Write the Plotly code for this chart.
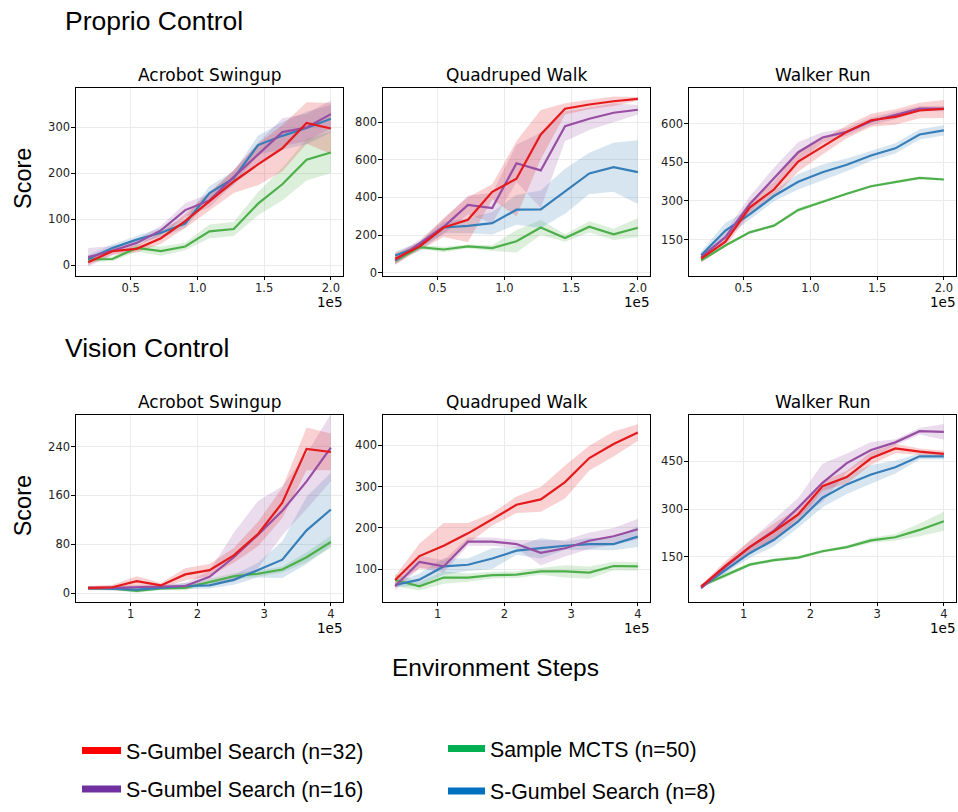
import plotly.graph_objects as go

# ---------------- data ----------------
proprio_steps = [18182, 36364, 54545, 72727, 90909, 109091, 127273, 145455, 163636, 181818, 200000]
vision_steps = [36364, 72727, 109091, 145455, 181818, 218182, 254545, 290909, 327273, 363636, 400000]

series_names = ["S-Gumbel Search (n=32)", "S-Gumbel Search (n=16)", "Sample MCTS (n=50)", "S-Gumbel Search (n=8)"]
series_keys = ["g32", "g16", "mcts", "g8"]
line_colors = {"g32": "#e41a1c", "g16": "#984ea3", "mcts": "#4daf4a", "g8": "#377eb8"}
legend_colors = {"g32": "#ff0000", "g16": "#7030a0", "mcts": "#00b050", "g8": "#0070c0"}

panel_titles = ["Acrobot Swingup", "Quadruped Walk", "Walker Run"]

# Proprio - Acrobot Swingup
pa_g32 = [7, 31, 36, 59, 96, 139, 182, 219, 254, 309, 297]
pa_g32_sd = [6, 8, 8, 12, 15, 20, 25, 45, 50, 45, 55]
pa_g16 = [18, 32, 49, 76, 120, 141, 192, 241, 289, 299, 328]
pa_g16_sd = [20, 10, 8, 10, 15, 15, 15, 25, 30, 30, 30]
pa_g8 = [14, 38, 56, 71, 91, 157, 189, 261, 281, 298, 318]
pa_g8_sd = [8, 8, 8, 10, 10, 15, 15, 20, 30, 35, 30]
pa_mcts = [13, 14, 38, 31, 41, 74, 79, 134, 176, 229, 245]
pa_mcts_sd = [5, 5, 8, 10, 8, 15, 15, 25, 35, 45, 45]

# Proprio - Quadruped Walk
pq_g32 = [74, 139, 240, 281, 430, 500, 735, 872, 895, 912, 925]
pq_g32_sd = [30, 20, 50, 120, 40, 200, 130, 30, 25, 25, 10]
pq_g16 = [65, 153, 244, 360, 344, 582, 544, 779, 819, 851, 867]
pq_g16_sd = [25, 20, 40, 50, 80, 100, 200, 80, 60, 50, 25]
pq_g8 = [91, 139, 240, 249, 263, 335, 337, 433, 528, 561, 535]
pq_g8_sd = [20, 25, 30, 40, 60, 80, 100, 120, 110, 130, 170]
pq_mcts = [61, 135, 123, 140, 130, 167, 240, 184, 244, 204, 239]
pq_mcts_sd = [15, 10, 15, 10, 15, 60, 40, 20, 30, 30, 50]

# Proprio - Walker Run
pw_g32 = [76, 142, 274, 344, 453, 510, 568, 613, 626, 651, 657]
pw_g32_sd = [15, 20, 25, 30, 40, 30, 25, 25, 30, 30, 35]
pw_g16 = [82, 159, 287, 389, 489, 546, 568, 609, 632, 658, 658]
pw_g16_sd = [10, 20, 30, 40, 40, 20, 15, 15, 15, 10, 10]
pw_g8 = [89, 185, 248, 319, 374, 411, 440, 476, 504, 558, 574]
pw_g8_sd = [15, 30, 20, 20, 30, 30, 25, 20, 20, 20, 20]
pw_mcts = [69, 127, 178, 204, 265, 297, 328, 357, 374, 389, 383]
pw_mcts_sd = [5, 5, 5, 5, 8, 5, 5, 5, 5, 5, 5]

# Vision - Acrobot Swingup
va_g32 = [9, 10, 20, 13, 31, 38, 62, 97, 148, 236, 231]
va_g32_sd = [3, 4, 8, 4, 10, 10, 12, 20, 25, 35, 30]
va_g16 = [8, 9, 11, 12, 12, 27, 59, 96, 135, 183, 238]
va_g16_sd = [3, 3, 3, 3, 5, 10, 40, 55, 40, 45, 55]
va_g8 = [9, 8, 6, 9, 12, 13, 22, 38, 55, 103, 137]
va_g8_sd = [3, 3, 3, 3, 5, 5, 8, 12, 30, 55, 60]
va_mcts = [8, 8, 4, 8, 9, 19, 28, 32, 39, 59, 84]
va_mcts_sd = [3, 3, 3, 3, 4, 5, 5, 5, 5, 8, 10]

# Vision - Quadruped Walk
vq_g32 = [74, 132, 157, 187, 221, 256, 269, 311, 369, 403, 431]
vq_g32_sd = [10, 30, 55, 25, 15, 20, 30, 40, 30, 30, 20]
vq_g16 = [59, 118, 107, 167, 167, 161, 140, 151, 169, 180, 197]
vq_g16_sd = [10, 15, 15, 10, 10, 10, 30, 20, 20, 20, 25]
vq_g8 = [62, 75, 107, 111, 126, 145, 151, 157, 161, 161, 179]
vq_g8_sd = [5, 15, 20, 15, 25, 10, 25, 10, 15, 15, 25]
vq_mcts = [74, 59, 80, 80, 86, 87, 95, 95, 92, 108, 107]
vq_mcts_sd = [15, 10, 15, 10, 8, 8, 8, 15, 15, 10, 10]

# Vision - Walker Run
vw_g32 = [57, 122, 181, 230, 284, 372, 401, 460, 491, 481, 474]
vw_g32_sd = [5, 15, 20, 25, 20, 15, 20, 20, 15, 10, 10]
vw_g16 = [52, 119, 181, 233, 305, 383, 445, 486, 510, 545, 543]
vw_g16_sd = [5, 10, 20, 35, 30, 60, 30, 25, 10, 10, 25]
vw_g8 = [55, 109, 162, 204, 262, 336, 378, 409, 432, 466, 466]
vw_g8_sd = [5, 10, 15, 20, 20, 30, 30, 30, 20, 10, 10]
vw_mcts = [59, 93, 126, 140, 148, 168, 181, 202, 212, 235, 262]
vw_mcts_sd = [5, 8, 5, 5, 5, 5, 5, 8, 10, 20, 30]

proprio_ticks = [50000, 100000, 150000, 200000]
proprio_ticktext = ["0.5", "1.0", "1.5", "2.0"]
vision_ticks = [100000, 200000, 300000, 400000]
vision_ticktext = ["1", "2", "3", "4"]

y_ticks = [
    [0, 100, 200, 300], [0, 200, 400, 600, 800], [150, 300, 450, 600],
    [0, 80, 160, 240], [100, 200, 300, 400], [150, 300, 450],
]
y_ranges = [
    [-22, 384], [-16, 981], [10, 737],
    [-13.4, 292], [22, 474], [10, 597],
]

panels = [
    {"g32": (pa_g32, pa_g32_sd), "g16": (pa_g16, pa_g16_sd), "g8": (pa_g8, pa_g8_sd), "mcts": (pa_mcts, pa_mcts_sd)},
    {"g32": (pq_g32, pq_g32_sd), "g16": (pq_g16, pq_g16_sd), "g8": (pq_g8, pq_g8_sd), "mcts": (pq_mcts, pq_mcts_sd)},
    {"g32": (pw_g32, pw_g32_sd), "g16": (pw_g16, pw_g16_sd), "g8": (pw_g8, pw_g8_sd), "mcts": (pw_mcts, pw_mcts_sd)},
    {"g32": (va_g32, va_g32_sd), "g16": (va_g16, va_g16_sd), "g8": (va_g8, va_g8_sd), "mcts": (va_mcts, va_mcts_sd)},
    {"g32": (vq_g32, vq_g32_sd), "g16": (vq_g16, vq_g16_sd), "g8": (vq_g8, vq_g8_sd), "mcts": (vq_mcts, vq_mcts_sd)},
    {"g32": (vw_g32, vw_g32_sd), "g16": (vw_g16, vw_g16_sd), "g8": (vw_g8, vw_g8_sd), "mcts": (vw_mcts, vw_mcts_sd)},
]

# ---------------- layout geometry ----------------
W, H = 958, 812
col_px = [(76, 343), (383, 650), (689, 956)]
row_px = [(89.3, 278.7), (419.3, 608.3)]


def px_x(p):
    return p / W


def px_y(p):
    return 1 - p / H


def hex_rgba(h, a):
    h = h.lstrip("#")
    return "rgba(%d,%d,%d,%.2f)" % (int(h[0:2], 16), int(h[2:4], 16), int(h[4:6], 16), a)


fig = go.Figure()
draw_order = ["mcts", "g8", "g16", "g32"]
tick_font = dict(family="DejaVu Sans", size=11.5, color="#222222")
annotations = []

for i, panel in enumerate(panels):
    r, c = divmod(i, 3)
    n = i + 1
    xa = "x" if n == 1 else "x%d" % n
    ya = "y" if n == 1 else "y%d" % n
    steps = proprio_steps if r == 0 else vision_steps
    for key in draw_order:
        m, sd = panel[key]
        up = [a + b for a, b in zip(m, sd)]
        lo = [a - b for a, b in zip(m, sd)]
        fig.add_trace(go.Scatter(
            x=steps + steps[::-1], y=up + lo[::-1], fill="toself",
            fillcolor=hex_rgba(line_colors[key], 0.2), line=dict(width=0),
            mode="lines", hoverinfo="skip", showlegend=False, xaxis=xa, yaxis=ya))
    for key in draw_order:
        m, sd = panel[key]
        fig.add_trace(go.Scatter(
            x=steps, y=m, mode="lines", line=dict(color=line_colors[key], width=2.2),
            showlegend=False, xaxis=xa, yaxis=ya))

    x0, x1 = col_px[c]
    y0, y1 = row_px[r]
    span = steps[-1] - steps[0]
    xr = [steps[0] - 0.05 * span, steps[-1] + 0.05 * span]
    axis_common = dict(showline=True, mirror=True, linecolor="black", linewidth=1.3,
                       ticks="outside", ticklen=3.5, tickcolor="black", tickwidth=1,
                       showgrid=True, gridcolor="#ebebeb", gridwidth=1, zeroline=False,
                       tickfont=tick_font)
    fig.update_layout(**{
        ("xaxis" if n == 1 else "xaxis%d" % n): dict(
            domain=[px_x(x0), px_x(x1)], anchor=ya, range=xr,
            tickvals=proprio_ticks if r == 0 else vision_ticks,
            ticktext=proprio_ticktext if r == 0 else vision_ticktext,
            ticklabelstandoff=-2, **axis_common),
        ("yaxis" if n == 1 else "yaxis%d" % n): dict(
            domain=[px_y(y1), px_y(y0)], anchor=xa, range=y_ranges[i],
            tickvals=y_ticks[i], ticklabelstandoff=-1, **axis_common),
    })
    annotations.append(dict(text=panel_titles[c], x=px_x((x0 + x1) / 2), y=px_y(y0 - 13),
                            xref="paper", yref="paper", showarrow=False, xanchor="center",
                            yanchor="middle", font=dict(family="DejaVu Sans", size=17, color="black")))
    annotations.append(dict(text="1e5", x=px_x(x1 + 1), y=px_y(y1 + 27),
                            xref="paper", yref="paper", showarrow=False, xanchor="right",
                            yanchor="middle", font=dict(family="DejaVu Sans", size=13.5, color="black")))

big_font = dict(family="Liberation Sans", size=26.5, color="black")
annotations += [
    dict(text="Proprio Control", x=px_x(63), y=px_y(21), xref="paper", yref="paper",
         showarrow=False, xanchor="left", yanchor="middle", font=big_font),
    dict(text="Vision Control", x=px_x(63), y=px_y(352), xref="paper", yref="paper",
         showarrow=False, xanchor="left", yanchor="middle", font=big_font),
    dict(text="Score", x=px_x(23), y=px_y(181), xref="paper", yref="paper", textangle=-90,
         showarrow=False, xanchor="center", yanchor="middle",
         font=dict(family="Liberation Sans", size=23.5, color="black")),
    dict(text="Score", x=px_x(23), y=px_y(512), xref="paper", yref="paper", textangle=-90,
         showarrow=False, xanchor="center", yanchor="middle",
         font=dict(family="Liberation Sans", size=23.5, color="black")),
    dict(text="Environment Steps", x=px_x(495), y=px_y(675), xref="paper", yref="paper",
         showarrow=False, xanchor="center", yanchor="middle",
         font=dict(family="Liberation Sans", size=24.5, color="black")),
]

# legend entries (one legend per entry for exact placement)
legend_pos = {"g32": (77, 759, 39), "g16": (77, 798, 39), "mcts": (443, 757, 37), "g8": (443, 800, 37)}
legend_ids = {"g32": "legend", "g16": "legend2", "mcts": "legend3", "g8": "legend4"}
for name, key in zip(series_names, series_keys):
    fig.add_trace(go.Scatter(x=[None], y=[None], mode="lines", name=name,
                             line=dict(color=legend_colors[key], width=7),
                             showlegend=True, legend=legend_ids[key], xaxis="x", yaxis="y"))
leg_font = dict(family="Liberation Sans", size=21.3, color="black")
legend_layout = {}
for key in series_keys:
    lx, ly, iw = legend_pos[key]
    legend_layout[legend_ids[key]] = dict(
        x=px_x(lx), y=px_y(ly), xanchor="left", yanchor="middle", xref="paper", yref="paper",
        font=leg_font, bgcolor="rgba(0,0,0,0)", borderwidth=0, itemwidth=iw)

fig.update_layout(
    width=W, height=H, margin=dict(l=0, r=0, t=0, b=0),
    paper_bgcolor="white", plot_bgcolor="white",
    annotations=annotations, **legend_layout,
)

page_fix = (
    "var s=document.documentElement.style;s.margin='0';s.padding='0';s.height='812px';s.overflow='hidden';"
    "var b=document.body.style;b.margin='0';b.padding='0';b.height='812px';b.overflow='hidden';"
    "document.querySelectorAll('body > div').forEach(function(d){d.style.height='812px';"
    "d.style.overflow='hidden';});"
)
fig.write_html("out.html", config={"displayModeBar": False}, post_script=page_fix)
